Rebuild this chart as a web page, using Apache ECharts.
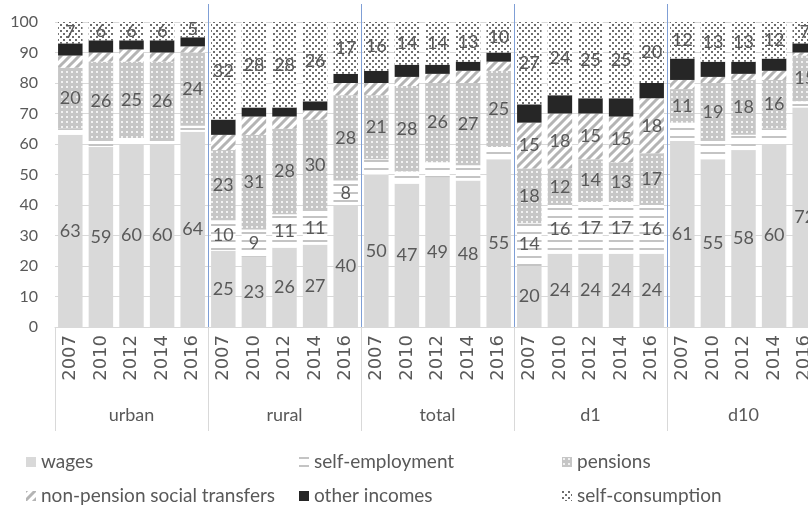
<!DOCTYPE html>
<html>
<head>
<meta charset="utf-8">
<script src="https://cdn.jsdelivr.net/npm/echarts@6/dist/echarts.min.js"></script>
<style>
  html, body { margin: 0; padding: 0; background: #ffffff; }
  #chart { width: 808px; height: 509px; }
</style>
</head>
<body>
<div id="chart"></div>
<script>
// Income structure by area and decile, percent of total income
const years = ['2007', '2010', '2012', '2014', '2016'];
const groups = ['urban', 'rural', 'total', 'd1', 'd10'];

const wages          = [63, 59, 60, 60, 64, 25, 23, 26, 27, 40, 50, 47, 49, 48, 55, 20, 24, 24, 24, 24, 61, 55, 58, 60, 72];
const selfEmployment = [ 2,  2,  2,  1,  2, 10,  9, 11, 11,  8,  5,  4,  5,  5,  4, 14, 16, 17, 17, 16,  6,  6,  5,  5,  2];
const pensions       = [20, 26, 25, 26, 24, 23, 31, 28, 30, 28, 21, 28, 26, 27, 25, 18, 12, 14, 13, 17, 11, 19, 18, 16, 15];
const socialTransfers= [ 4,  3,  4,  3,  2,  5,  6,  4,  3,  4,  4,  3,  3,  4,  3, 15, 18, 15, 15, 18,  3,  2,  2,  3,  1];
const otherIncomes   = [ 4,  4,  3,  4,  3,  5,  3,  3,  3,  3,  4,  4,  3,  3,  3,  6,  6,  5,  6,  5,  7,  5,  4,  4,  3];
const selfConsumption= [ 7,  6,  6,  6,  5, 32, 28, 28, 26, 17, 16, 14, 14, 13, 10, 27, 24, 25, 25, 20, 12, 13, 13, 12,  7];

const yTicks = { min: 0, max: 100, step: 10 };

// one category per (group, year) pair
const categories = groups.flatMap(() => years);

// small tiled fills in the style of office chart patterns
function tile(w, h, paint) {
  const c = document.createElement('canvas');
  c.width = w; c.height = h;
  const ctx = c.getContext('2d');
  paint(ctx, w, h);
  return { image: c, repeat: 'repeat' };
}

const fillHorizontal = tile(8, 8, (ctx, w, h) => {
  ctx.fillStyle = '#ffffff'; ctx.fillRect(0, 0, w, h);
  ctx.fillStyle = '#c4c4c4'; ctx.fillRect(0, 0, w, 2);
});

const fillGrid = tile(5, 5, (ctx, w, h) => {
  ctx.fillStyle = '#c6c6c6'; ctx.fillRect(0, 0, w, h);
  ctx.fillStyle = '#f2f2f2'; ctx.fillRect(1, 1, 2, 2);
});

const fillDiagonal = tile(9, 9, (ctx, w, h) => {
  ctx.fillStyle = '#ffffff'; ctx.fillRect(0, 0, w, h);
  ctx.strokeStyle = '#b4b4b4'; ctx.lineWidth = 3;
  ctx.beginPath();
  ctx.moveTo(-1, h + 1); ctx.lineTo(w + 1, -1);
  ctx.moveTo(-w / 2 - 1, h / 2 + 1); ctx.lineTo(w / 2 + 1, -h / 2 - 1);
  ctx.moveTo(w / 2 - 1, h * 1.5 + 1); ctx.lineTo(w * 1.5 + 1, h / 2 - 1);
  ctx.stroke();
});

const fillDots = tile(6, 6, (ctx, w, h) => {
  ctx.fillStyle = '#ffffff'; ctx.fillRect(0, 0, w, h);
  ctx.fillStyle = '#6e6e6e';
  ctx.fillRect(0, 0, 2, 2);
  ctx.fillRect(3, 3, 2, 2);
});

const textColor = '#595959';
const baseFont = 'Lato';

function labelFor(minShown) {
  return {
    show: true,
    position: 'inside',
    color: textColor,
    fontFamily: baseFont,
    fontSize: 18,
    formatter: p => (p.value >= minShown ? String(p.value) : '')
  };
}

function bar(name, data, fill, label) {
  return {
    name, type: 'bar', stack: 'share', data,
    xAxisIndex: 0, yAxisIndex: 0,
    barCategoryGap: '20%',
    itemStyle: { color: fill },
    label: label || { show: false },
    emphasis: { disabled: true },
    silent: true
  };
}

const legendText = { color: textColor, fontFamily: baseFont, fontSize: 19, lineHeight: 20 };
function legendColumn(left, names) {
  return {
    orient: 'vertical', left, top: 452, padding: 0, itemGap: 14,
    height: 60, width: 270,
    itemWidth: 10, itemHeight: 10, icon: 'rect',
    selectedMode: false, textStyle: legendText, data: names
  };
}

// the plot runs a little past the right edge of the canvas
const chart = echarts.init(document.getElementById('chart'), null, { renderer: 'canvas' });
chart.setOption({
  animation: false,
  backgroundColor: '#ffffff',
  grid: [
    { left: 55, top: 22, width: 765, height: 305, outerBoundsMode: 'none', containLabel: false },
    { left: 55, top: 4, width: 765, height: 323, outerBoundsMode: 'none', containLabel: false }
  ],
  xAxis: [
    {
      type: 'category', gridIndex: 0, data: categories,
      axisLine: { show: true, lineStyle: { color: '#d9d9d9' } },
      axisTick: { show: false },
      axisLabel: { interval: 0, rotate: 90, margin: 8, color: textColor, fontFamily: 'DejaVu Sans', fontSize: 18 },
      splitLine: { show: false }
    },
    {
      // group names with separators below the axis
      type: 'category', gridIndex: 1, data: groups,
      axisLine: { show: false },
      axisTick: { show: true, interval: 0, length: 104, lineStyle: { color: '#d9d9d9' } },
      axisLabel: { interval: 0, margin: 79, color: textColor, fontFamily: baseFont, fontSize: 18 },
      splitLine: { show: false }
    },
    {
      // group dividers across the plot, one per block of years
      type: 'value', gridIndex: 1, min: 0, max: categories.length, interval: years.length, z: 10,
      axisLine: { show: false }, axisTick: { show: false }, axisLabel: { show: false },
      splitLine: { show: true, showMinLine: false, showMaxLine: false, lineStyle: { color: '#7f9fd6', width: 1 } }
    }
  ],
  yAxis: [
    {
      type: 'value', gridIndex: 0, min: yTicks.min, max: yTicks.max, interval: yTicks.step,
      axisLine: { show: false }, axisTick: { show: false },
      axisLabel: { margin: 17, color: textColor, fontFamily: baseFont, fontSize: 16 },
      splitLine: { lineStyle: { color: '#d9d9d9' } }
    },
    { type: 'value', gridIndex: 1, show: false, min: 0, max: 1 }
  ],
  legend: [
    legendColumn(26, ['wages', 'non-pension social transfers']),
    legendColumn(299, ['self-employment', 'other incomes']),
    legendColumn(562, ['pensions', 'self-consumption'])
  ],
  series: [
    bar('wages', wages, '#d9d9d9', labelFor(0)),
    bar('self-employment', selfEmployment, fillHorizontal, labelFor(8)),
    bar('pensions', pensions, fillGrid, labelFor(0)),
    bar('non-pension social transfers', socialTransfers, fillDiagonal, labelFor(8)),
    bar('other incomes', otherIncomes, '#262626'),
    bar('self-consumption', selfConsumption, fillDots, labelFor(0))
  ]
});
</script>
</body>
</html>
